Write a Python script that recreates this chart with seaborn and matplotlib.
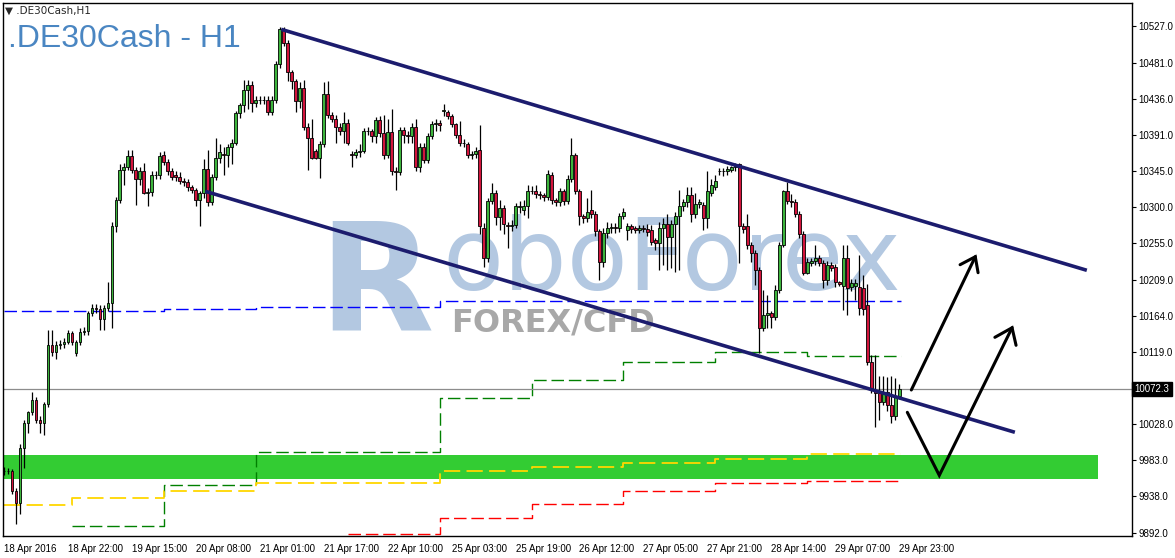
import numpy as np
import pandas as pd
import seaborn as sns
import matplotlib.pyplot as plt
from matplotlib.transforms import blended_transform_factory

# hourly candles, 18 Apr 2016 .. 29 Apr 2016 23:00
opens = [9969, 9970, 9969, 9945, 9929, 9998, 10030, 10043, 10058, 10034,
         10029, 10053, 10128, 10118, 10128, 10129, 10131, 10142, 10117, 10131,
         10144, 10145, 10167, 10174, 10173, 10160, 10174, 10180, 10276, 10309,
         10347, 10351, 10364, 10347, 10335, 10345, 10318, 10319, 10340, 10341,
         10366, 10357, 10345, 10341, 10338, 10333, 10332, 10325, 10322, 10309,
         10318, 10348, 10306, 10338, 10362, 10367, 10366, 10375, 10381, 10418,
         10428, 10447, 10453, 10431, 10435, 10434, 10435, 10420, 10435, 10479,
         10523, 10506, 10469, 10458, 10433, 10449, 10401, 10387, 10370, 10362,
         10379, 10442, 10416, 10411, 10401, 10396, 10406, 10367, 10366, 10369,
         10371, 10395, 10396, 10389, 10409, 10393, 10365, 10394, 10345, 10344,
         10397, 10390, 10389, 10401, 10350, 10376, 10359, 10389, 10404, 10405,
         10421, 10419, 10415, 10404, 10391, 10381, 10379, 10366, 10367, 10372,
         10274, 10237, 10308, 10318, 10288, 10299, 10278, 10277, 10278, 10300,
         10297, 10301, 10320, 10321, 10316, 10315, 10313, 10340, 10309, 10306,
         10320, 10308, 10336, 10365, 10320, 10289, 10286, 10296, 10292, 10270,
         10232, 10268, 10274, 10275, 10274, 10289, 10272, 10276, 10274, 10272,
         10274, 10273, 10272, 10259, 10255, 10274, 10279, 10263, 10279, 10289,
         10302, 10306, 10315, 10291, 10304, 10303, 10286, 10318, 10326, 10346,
         10345, 10345, 10347, 10350, 10354, 10276, 10276, 10253, 10243, 10221,
         10149, 10165, 10167, 10162, 10196, 10253, 10320, 10308, 10306, 10292,
         10266, 10218, 10230, 10233, 10237, 10230, 10209, 10228, 10225, 10206,
         10201, 10237, 10200, 10201, 10200, 10199, 10177, 10106, 10071, 10067,
         10056, 10069, 10052, 10039, 10064]
highs = [9974, 9973, 9972, 9948, 10003, 10034, 10045, 10068, 10062, 10038,
         10056, 10146, 10146, 10132, 10134, 10136, 10146, 10145, 10134, 10149,
         10150, 10170, 10179, 10179, 10178, 10178, 10206, 10281, 10313, 10354,
         10356, 10372, 10372, 10351, 10350, 10355, 10324, 10345, 10346, 10369,
         10370, 10360, 10349, 10345, 10344, 10337, 10336, 10328, 10324, 10321,
         10360, 10372, 10342, 10387, 10379, 10376, 10379, 10385, 10421, 10431,
         10459, 10460, 10458, 10440, 10440, 10440, 10439, 10439, 10483, 10526,
         10526, 10510, 10472, 10461, 10457, 10460, 10405, 10410, 10373, 10383,
         10457, 10458, 10420, 10416, 10406, 10420, 10410, 10370, 10373, 10379,
         10399, 10400, 10398, 10413, 10414, 10416, 10410, 10423, 10350, 10401,
         10400, 10395, 10405, 10410, 10380, 10380, 10393, 10408, 10410, 10409,
         10430, 10422, 10417, 10405, 10408, 10385, 10382, 10371, 10375, 10403,
         10280, 10312, 10330, 10322, 10309, 10303, 10282, 10284, 10305, 10308,
         10309, 10328, 10327, 10328, 10320, 10318, 10347, 10344, 10311, 10324,
         10323, 10340, 10387, 10368, 10323, 10292, 10312, 10322, 10295, 10273,
         10274, 10282, 10280, 10280, 10293, 10299, 10280, 10279, 10277, 10278,
         10278, 10279, 10278, 10262, 10282, 10287, 10291, 10284, 10294, 10322,
         10310, 10325, 10326, 10318, 10310, 10306, 10345, 10335, 10340, 10349,
         10349, 10352, 10352, 10356, 10356, 10280, 10291, 10257, 10247, 10225,
         10196, 10190, 10170, 10203, 10257, 10322, 10332, 10316, 10310, 10295,
         10270, 10236, 10237, 10253, 10240, 10234, 10233, 10232, 10229, 10208,
         10253, 10253, 10210, 10210, 10240, 10215, 10204, 10115, 10115, 10089,
         10089, 10087, 10089, 10086, 10079]
lows = [9965, 9966, 9941, 9903, 9916, 9973, 10017, 10040, 10030, 10017,
        10014, 10050, 10114, 10110, 10122, 10124, 10129, 10127, 10113, 10128,
        10140, 10140, 10164, 10168, 10146, 10146, 10170, 10149, 10269, 10305,
        10328, 10347, 10343, 10303, 10328, 10316, 10301, 10314, 10336, 10335,
        10353, 10341, 10334, 10333, 10329, 10327, 10321, 10318, 10301, 10276,
        10312, 10302, 10303, 10334, 10356, 10340, 10350, 10354, 10378, 10412,
        10420, 10423, 10420, 10426, 10429, 10430, 10416, 10416, 10431, 10475,
        10502, 10458, 10448, 10419, 10425, 10397, 10347, 10361, 10360, 10337,
        10375, 10412, 10407, 10381, 10390, 10381, 10378, 10350, 10362, 10363,
        10368, 10390, 10382, 10380, 10388, 10360, 10362, 10340, 10322, 10340,
        10380, 10380, 10380, 10345, 10344, 10355, 10355, 10385, 10395, 10396,
        10415, 10411, 10400, 10387, 10377, 10376, 10362, 10360, 10362, 10266,
        10225, 10232, 10304, 10278, 10272, 10266, 10249, 10270, 10274, 10293,
        10290, 10287, 10316, 10312, 10310, 10308, 10309, 10304, 10302, 10301,
        10303, 10304, 10332, 10316, 10278, 10280, 10281, 10286, 10264, 10209,
        10225, 10262, 10268, 10268, 10269, 10285, 10259, 10268, 10268, 10268,
        10269, 10264, 10253, 10247, 10221, 10228, 10221, 10224, 10219, 10221,
        10295, 10300, 10282, 10287, 10299, 10272, 10274, 10314, 10322, 10341,
        10339, 10340, 10344, 10346, 10230, 10268, 10248, 10232, 10203, 10117,
        10145, 10149, 10149, 10159, 10193, 10250, 10304, 10300, 10288, 10262,
        10215, 10216, 10226, 10228, 10226, 10199, 10203, 10220, 10200, 10201,
        10171, 10165, 10195, 10184, 10165, 10165, 10102, 10067, 10024, 10033,
        10052, 10045, 10029, 10033, 10060]
closes = [9970, 9969, 9944, 9929, 9998, 10030, 10043, 10058, 10034, 10029,
          10053, 10128, 10118, 10128, 10129, 10131, 10142, 10131, 10131, 10144,
          10145, 10167, 10174, 10173, 10160, 10174, 10180, 10276, 10309, 10347,
          10351, 10364, 10347, 10335, 10345, 10318, 10319, 10340, 10341, 10364,
          10357, 10345, 10338, 10338, 10333, 10332, 10325, 10322, 10309, 10318,
          10348, 10306, 10338, 10362, 10369, 10366, 10375, 10381, 10418, 10428,
          10447, 10453, 10431, 10435, 10434, 10435, 10420, 10435, 10479, 10523,
          10506, 10469, 10458, 10433, 10449, 10401, 10387, 10362, 10362, 10379,
          10442, 10416, 10411, 10400, 10396, 10406, 10381, 10366, 10369, 10371,
          10395, 10396, 10389, 10409, 10393, 10365, 10394, 10345, 10344, 10397,
          10390, 10389, 10401, 10350, 10376, 10359, 10389, 10404, 10405, 10403,
          10422, 10415, 10404, 10391, 10381, 10380, 10366, 10367, 10371, 10276,
          10237, 10308, 10318, 10288, 10299, 10279, 10277, 10278, 10301, 10301,
          10301, 10320, 10321, 10316, 10315, 10313, 10342, 10309, 10306, 10320,
          10308, 10336, 10365, 10320, 10289, 10286, 10294, 10292, 10270, 10232,
          10268, 10274, 10275, 10274, 10289, 10294, 10276, 10273, 10272, 10274,
          10273, 10269, 10257, 10255, 10274, 10279, 10263, 10279, 10289, 10302,
          10306, 10315, 10291, 10304, 10306, 10286, 10320, 10328, 10333, 10345,
          10346, 10348, 10350, 10354, 10276, 10273, 10253, 10243, 10221, 10149,
          10165, 10167, 10162, 10196, 10253, 10320, 10308, 10306, 10292, 10266,
          10218, 10232, 10233, 10237, 10230, 10209, 10228, 10224, 10206, 10204,
          10237, 10199, 10205, 10205, 10174, 10172, 10106, 10071, 10067, 10056,
          10069, 10052, 10039, 10064, 10072.3]

tick_labels = ["18 Apr 2016", "18 Apr 22:00", "19 Apr 15:00", "20 Apr 08:00",
               "21 Apr 01:00", "21 Apr 17:00", "22 Apr 10:00", "25 Apr 03:00",
               "25 Apr 19:00", "26 Apr 12:00", "27 Apr 05:00", "27 Apr 21:00",
               "28 Apr 14:00", "29 Apr 07:00", "29 Apr 23:00"]
price_ticks = [10527, 10481, 10436, 10391, 10345, 10300, 10255, 10209,
               10164, 10119, 10028, 9983, 9938, 9892]
last_price = 10072.3

# daily step levels (bar index where each day starts)
day_starts = [0, 17, 40, 63, 86, 109, 132, 155, 178, 201, 224.5]
blue_levels = [10170, 10170, 10172, 10175, 10175, 10182, 10182, 10182, 10182, 10182]
green_levels = [9901, 9952, 9993, 9993, 10061, 10083, 10106, 10118, 10113]  # from 19 Apr
yellow_levels = [9927, 9936, 9945, 9954, 9954, 9969, 9975, 9980, 9985, 9991]
red_levels = [9891, 9911, 9928, 9945, 9955, 9957]  # from 22 Apr

# drawn objects
channel_top_x, channel_top_y = [69.4, 270.9], [10523, 10221]
channel_bot_x, channel_bot_y = [50.4, 252.9], [10320, 10018]
zone_x, zone_y = [-0.2, 273.7], [9959, 9989]
arrow1_x, arrow1_y = [227, 243], [10071, 10238]
arrow1_head_x, arrow1_head_y = [239.2, 243, 243.7], [10228, 10238, 10218]
arrow2_x, arrow2_y = [226, 234, 252.2], [10043, 9964, 10149]
arrow2_head_x, arrow2_head_y = [247.9, 252.2, 253.2], [10137, 10149, 10127]

df = pd.DataFrame({"open": opens, "high": highs, "low": lows, "close": closes})
df["bar"] = np.arange(len(df))
df["up"] = df["close"] >= df["open"]

sns.set_style("white")
plt.rcParams["font.family"] = ["Liberation Sans", "DejaVu Sans"]

fig = plt.figure(figsize=(11.75, 5.58), dpi=100)
ax = fig.add_axes([3 / 1175, 1 - 536 / 558, 1129 / 1175, 533 / 558])
ax.set_xlim(-0.2, 282.2)
ax.set_ylim(9888, 10556)

# support zone
ax.fill_between(zone_x, zone_y[0], zone_y[1], color="#33cc33", lw=0, zorder=1)

# watermark (logo letter + name + subtitle)
wm = "#b3c8e1"
ax.text(0.279, 0.387, "R", transform=ax.transAxes, fontsize=108,
        family="DejaVu Sans", fontweight="bold", color=wm, va="baseline", zorder=0)
ax.text(0.389, 0.462, "oboForex", transform=ax.transAxes, fontsize=72,
        family="DejaVu Sans", color=wm, va="baseline", zorder=0)
ax.text(0.397, 0.384, "FOREX/CFD", transform=ax.transAxes, fontsize=23,
        family="DejaVu Sans", fontweight="bold", color="#a8a8a8", va="baseline", zorder=0)

# step indicator lines
dash = (0, (9, 3.5))
def steps(levels, start, color, lw=1.0):
    xs = day_starts[start:]
    ys = list(levels) + [levels[-1]]
    sns.lineplot(x=xs, y=ys, ax=ax, color=color, lw=lw, drawstyle="steps-post",
                 linestyle=dash, zorder=2, estimator=None, sort=False)

steps(blue_levels, 0, "#0000ff")
steps(green_levels, 1, "#008000")
steps(yellow_levels, 0, "#ffd700", 1.3)
steps(red_levels, 4, "#ff0000")

# current price line
ax.axhline(last_price, color="#8c8c8c", lw=0.9, zorder=2)

# candles
ax.vlines(df["bar"], df["low"], df["high"], color="black", lw=0.9, zorder=3)
body_colors = np.where(df["up"], "#3cb43c", "#d2143c")
ax.bar(df["bar"], df["close"] - df["open"], bottom=df["open"], width=0.62,
       color=body_colors, edgecolor="black", linewidth=0.6, zorder=4)

# channel
ax.plot(channel_top_x, channel_top_y, color="#1c1c6e", lw=2.6, zorder=5,
        solid_capstyle="butt")
ax.plot(channel_bot_x, channel_bot_y, color="#1c1c6e", lw=2.6, zorder=5,
        solid_capstyle="butt")

# forecast arrows
for xs, ys in [(arrow1_x, arrow1_y), (arrow1_head_x, arrow1_head_y),
               (arrow2_x, arrow2_y), (arrow2_head_x, arrow2_head_y)]:
    ax.plot(xs, ys, color="black", lw=2.2, zorder=6, solid_joinstyle="miter")

# axes styling
for s in ax.spines.values():
    s.set_color("black")
    s.set_linewidth(1.0)
ax.yaxis.tick_right()
ax.set_yticks(price_ticks)
ax.set_yticklabels([f"{p:.1f}" for p in price_ticks])
ax.tick_params(axis="y", direction="out", length=3, width=0.8, pad=1.5,
               labelsize=7, colors="black")
ax.set_xticks(list(range(0, 225, 16)))
ax.set_xticklabels(tick_labels, ha="left")
ax.tick_params(axis="x", direction="out", length=4, width=0.8, pad=1.5,
               labelsize=7, colors="black")
ax.set_xlabel("")
ax.set_ylabel("")

# current price tag
trans = blended_transform_factory(ax.transAxes, ax.transData)
ax.text(1.002, last_price, f"{last_price:.1f}", transform=trans, fontsize=7,
        color="white", va="center", ha="left",
        bbox=dict(boxstyle="square,pad=0.25", fc="black", ec="black"))

# titles
fig.text(5 / 1175, 1 - 6 / 558, "\u25bc .DE30Cash,H1", fontsize=7.5, va="top",
         ha="left", family=["DejaVu Sans"])
fig.text(8 / 1175, 1 - 24 / 558, ".DE30Cash - H1", fontsize=23, color="#4a86c2",
         va="top", ha="left")

fig.savefig("out.png", dpi=100)
